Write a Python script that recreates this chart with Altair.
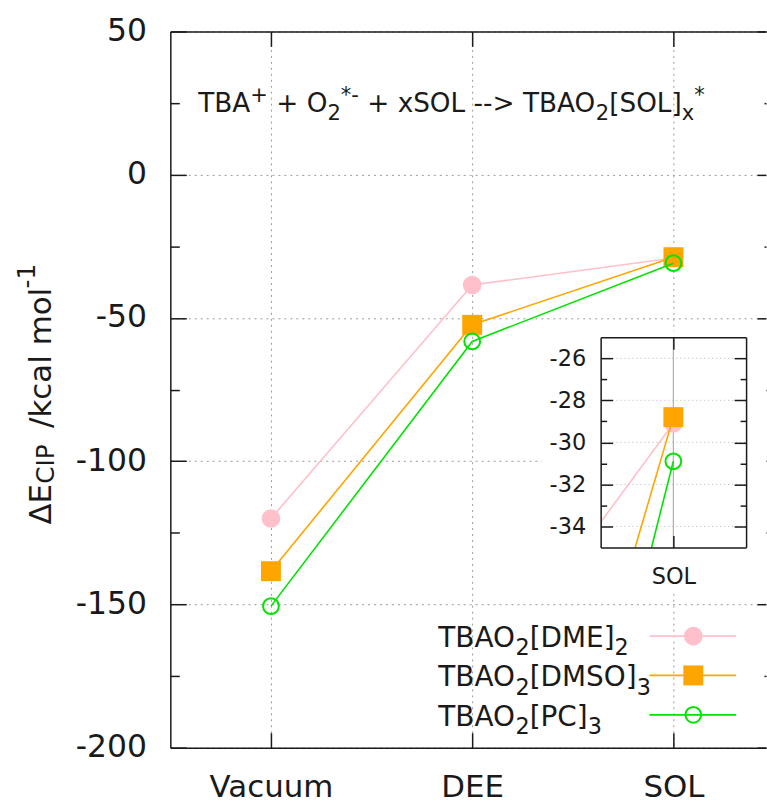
import json

import altair as alt
import pandas as pd

# ---- data -----------------------------------------------------------------
# labels use gnuplot-style markup: _x / _{..} subscript, ^x / ^{..} superscript
categories = ["Vacuum", "DEE", "SOL"]
series = ["TBAO_2[DME]_2", "TBAO_2[DMSO]_3", "TBAO_2[PC]_3"]
e_dme = [-120.0, -38.5, -29.1]
e_dmso = [-138.4, -52.4, -28.8]
e_pc = [-150.6, -58.2, -30.9]

main_major = [-200, -150, -100, -50, 0, 50]
main_minor = [-175, -125, -75, -25, 25]
inset_major = [-34, -32, -30, -28, -26]
inset_minor = [-33, -31, -29, -27]
inset_x = [1.5, 2.5]      # inset window, x (category index)
inset_y = [-35, -25]      # inset window, energy

reaction = "TBA^+ + O_2^{*-} + xSOL --> TBAO_2[SOL]_x^*"

values = [e_dme, e_dmso, e_pc]
rows = []
for name, vals in zip(series, values):
    for i, (cat, v) in enumerate(zip(categories, vals)):
        rows.append({"series": name, "idx": i, "medium": cat, "energy": v})
df = pd.DataFrame(rows)
df_sol = df[df["idx"] == 2]
# DEE -> SOL segments, cut to the inset window below
segs = pd.DataFrame({
    "series": series,
    "x0": [1] * 3, "x1": [2] * 3,
    "y0": [v[1] for v in values], "y1": [v[2] for v in values],
})
df_leg = pd.DataFrame({"series": series})
df_ig = pd.DataFrame({"energy": inset_major})
one = pd.DataFrame({"k": [0]})

# ---- styling --------------------------------------------------------------
FONT = "DejaVu Sans"
INK = "#1a1a1a"
GRID = "#9a9a9a"
STYLE = {
    series[0]: dict(color="#ffc0cb", shape="circle", filled=True, size=350),
    series[1]: dict(color="#ffa500", shape="square", filled=True, size=400),
    series[2]: dict(color="#00e400", shape="circle", filled=False, size=250),
}

cat_expr = json.dumps(categories, ensure_ascii=False) + "[datum.value]"
num_expr = "'' + datum.value"

W, H = 598, 719                  # main plot area
IX0, IX1 = 432, 578              # inset frame, x pixels inside the plot
IY0, IY1 = 307, 518              # inset frame, y pixels inside the plot

X_MAIN = alt.Scale(domain=[-0.5, 2.46], nice=False, zero=False)
Y_MAIN = alt.Scale(domain=[-200, 50], nice=False, zero=False)
X_INSET = alt.Scale(domain=inset_x, range=[IX0, IX1], nice=False, zero=False)
Y_INSET = alt.Scale(domain=inset_y, range=[IY1, IY0], nice=False, zero=False)
Y_LEG = alt.Scale(type="point", domain=series, range=[607, 686], padding=0)

# ---- rich text (sub/superscripts) ------------------------------------------
# DejaVu Sans advance widths, in em
ADV = {"T": .611, "B": .686, "A": .684, "O": .787, "[": .390, "]": .390,
       "D": .770, "M": .863, "E": .632, "S": .635, "P": .603, "C": .698,
       "L": .557, "x": .592, "+": .838, " ": .318, "-": .361, ">": .838,
       "*": .500}
ADV.update({d: .636 for d in "0123456789"})
SCRIPT = 0.8          # relative size of sub/superscripts
DROP, RISE = 0.30, 0.40


def parse(markup):
    out, buf, i = [], "", 0
    while i < len(markup):
        c = markup[i]
        if c in "_^":
            if buf:
                out.append((buf, 0))
                buf = ""
            kind = -1 if c == "_" else 1
            if markup[i + 1] == "{":
                j = markup.index("}", i)
                out.append((markup[i + 2:j], kind))
                i = j + 1
            else:
                out.append((markup[i + 1], kind))
                i += 2
        else:
            buf += c
            i += 1
    if buf:
        out.append((buf, 0))
    return out


def adv(s, fs):
    return sum(ADV.get(ch, 0.6) for ch in s) * fs


def layout(markup, size):
    """(text, x offset, baseline shift, font size) for each run.

    SVG drops leading/trailing blanks, so they are turned into offsets."""
    runs, x = [], 0.0
    for txt, kind in parse(markup):
        fs = size if kind == 0 else size * SCRIPT
        shift = 0 if kind == 0 else (DROP * size if kind < 0 else -RISE * size)
        lead = len(txt) - len(txt.lstrip(" "))
        if txt.strip():
            runs.append((txt.strip(), x + adv(txt[:lead], fs), shift, fs))
        x += adv(txt, fs)
    return runs


def axis(orient, vals, offset=0, label_expr=None, font_size=30, pad=10,
         tick=0, domain=False, grid=False, z=0):
    kw = dict(orient=orient, values=vals, title=None, offset=offset,
              domain=domain, domainColor=INK, domainWidth=1.5,
              grid=grid, ticks=tick > 0, tickSize=tick, tickColor=INK,
              tickWidth=1.5, zindex=z)
    if grid:
        kw.update(gridColor=GRID, gridWidth=1, gridDash=[2, 4])
    if label_expr:
        kw.update(labels=True, labelExpr=label_expr, labelFont=FONT,
                  labelFontSize=font_size, labelColor=INK, labelPadding=pad)
    else:
        kw.update(labels=False)
    return alt.Axis(**kw)


def carrier(data, xs, ys, xaxis, yaxis):
    """Invisible marks whose only job is to carry an axis."""
    return alt.Chart(data).mark_point(opacity=0).encode(
        x=alt.X("idx:Q", scale=xs, axis=xaxis),
        y=alt.Y("energy:Q", scale=ys, axis=yaxis),
    )


def marker(base, st):
    if st["filled"]:
        return base.mark_point(shape=st["shape"], filled=True, size=st["size"],
                               color=st["color"], opacity=1)
    return base.mark_point(shape=st["shape"], filled=False, size=st["size"],
                           color=st["color"], strokeWidth=2, opacity=1)


def text(txt, x, y, size, angle=0):
    return alt.Chart(one).mark_text(
        text=txt, font=FONT, fontSize=size, color=INK, align="left",
        baseline="alphabetic", angle=angle,
    ).encode(x=alt.value(x), y=alt.value(y))


def rich(markup, x, y, size):
    return [text(t, x + dx, y + dy, fs) for t, dx, dy, fs in layout(markup, size)]


# ---- main series ------------------------------------------------------------
main_series = []
for name in series:
    st = STYLE[name]
    base = alt.Chart(df).transform_filter(alt.datum.series == name).encode(
        x=alt.X("idx:Q", scale=X_MAIN, axis=None),
        y=alt.Y("energy:Q", scale=Y_MAIN, axis=None),
    )
    main_series += [base.mark_line(color=st["color"], strokeWidth=1.6), marker(base, st)]

# ---- legend (label, line sample, marker) -----------------------------------
LEG_FS = 28
legend = []
for name in series:
    st = STYLE[name]
    base = alt.Chart(df_leg).transform_filter(alt.datum.series == name).encode(
        y=alt.Y("series:N", scale=Y_LEG, axis=None)
    )
    legend += [
        base.mark_rule(color=st["color"], strokeWidth=1.8).encode(
            x=alt.value(481), x2=alt.value(568)),
        marker(base, st).encode(x=alt.value(525)),
    ]
    for t, dx, dy, fs in layout(name, LEG_FS):
        legend.append(base.mark_text(
            text=t, font=FONT, fontSize=fs, color=INK, align="left",
            baseline="alphabetic", dy=11 + dy,
        ).encode(x=alt.value(269 + dx)))

# ---- inset: white window, grid, segments, SOL markers ----------------------
patch = alt.Chart(one).mark_rect(color="white").encode(
    x=alt.value(373), x2=alt.value(W), y=alt.value(301), y2=alt.value(563)
)
inset_grid = [
    alt.Chart(df_ig).mark_rule(color="#b8b8b8", strokeWidth=1, strokeDash=[1, 3]).encode(
        y=alt.Y("energy:Q", scale=Y_INSET, axis=None),
        x=alt.X(datum=inset_x[0], scale=X_INSET, axis=None),
        x2=alt.X2(datum=inset_x[1]),
    ),
    alt.Chart(df_sol.head(1)).mark_rule(color="#b0b0b0", strokeWidth=1.2).encode(
        x=alt.X("idx:Q", scale=X_INSET, axis=None),
        y=alt.Y(datum=inset_y[0], scale=Y_INSET, axis=None),
        y2=alt.Y2(datum=inset_y[1]),
    ),
]

# where each DEE->SOL segment enters the window (left or bottom edge)
t_expr = (f"max(({inset_x[0]} - datum.x0) / (datum.x1 - datum.x0), "
          f"({inset_y[0]} - datum.y0) / (datum.y1 - datum.y0))")
inset_series = []
for name in series:
    st = STYLE[name]
    seg = alt.Chart(segs).transform_filter(alt.datum.series == name).transform_calculate(
        t=t_expr
    ).transform_calculate(
        xa="datum.x0 + datum.t * (datum.x1 - datum.x0)",
        ya="datum.y0 + datum.t * (datum.y1 - datum.y0)",
    ).mark_rule(color=st["color"], strokeWidth=1.6).encode(
        x=alt.X("xa:Q", scale=X_INSET, axis=None),
        y=alt.Y("ya:Q", scale=Y_INSET, axis=None),
        x2="x1:Q", y2="y1:Q",
    )
    pts = marker(alt.Chart(df_sol).transform_filter(alt.datum.series == name).encode(
        x=alt.X("idx:Q", scale=X_INSET, axis=None),
        y=alt.Y("energy:Q", scale=Y_INSET, axis=None),
    ), st)
    inset_series += [seg, pts]

# ---- axes -------------------------------------------------------------------
main_axes = [
    carrier(df, X_MAIN, Y_MAIN,
            axis("bottom", [0, 1, 2], label_expr=cat_expr, font_size=31, pad=25,
                 domain=True, grid=True),
            axis("left", main_major, label_expr=num_expr, font_size=31.5, pad=24,
                 domain=True, grid=True)),
    carrier(df, X_MAIN, Y_MAIN,
            axis("bottom", [0, 1, 2], offset=-H, tick=15, domain=True),
            axis("right", main_major, offset=-W, tick=16)),
    carrier(df, X_MAIN, Y_MAIN,
            axis("top", [0, 1, 2], offset=-H, tick=15),
            axis("right", main_minor, offset=-W, tick=9)),
    carrier(df, X_MAIN, Y_MAIN, None, axis("left", main_major, offset=-W, tick=9)),
    carrier(df, X_MAIN, Y_MAIN, None, axis("left", main_minor, offset=-W, tick=2)),
]
inset_axes = [
    carrier(df_sol, X_INSET, Y_INSET,
            axis("bottom", [2], offset=IY1 - H, label_expr=cat_expr, font_size=22.5,
                 pad=18, domain=True, z=1),
            axis("left", inset_major, offset=-IX0, label_expr=num_expr, font_size=22.5,
                 pad=15, domain=True, z=1)),
    carrier(df_sol, X_INSET, Y_INSET,
            axis("bottom", [2], offset=IY0 - H, tick=12, domain=True, z=1),
            axis("right", inset_major, offset=IX0 - W, tick=12, z=1)),
    carrier(df_sol, X_INSET, Y_INSET,
            axis("top", [2], offset=-IY1, tick=12, z=1),
            axis("right", inset_minor, offset=IX0 - W, tick=6, z=1)),
    carrier(df_sol, X_INSET, Y_INSET, None,
            axis("left", inset_major, offset=-IX1, tick=12, domain=True, z=1)),
    carrier(df_sol, X_INSET, Y_INSET, None,
            axis("left", inset_minor, offset=-IX1, tick=6, z=1)),
]

# ---- y title, read bottom-to-top ------------------------------------------
ytitle = [
    text("ΔE", -120, 495, 31, 270),
    text("CIP", -117, 454, 24.8, 270),
    text("/kcal mol", -120, 398, 31, 270),
    text("-1", -136, 258, 24.8, 270),
]

chart = alt.layer(
    *main_axes,
    patch,
    *main_series,
    *legend,
    *rich(reaction, 28, 81, 26.4),
    *ytitle,
    *inset_grid,
    *inset_series,
    *inset_axes,
).resolve_scale(x="independent", y="independent").properties(
    width=W, height=H,
    padding={"left": 15, "top": 14, "right": 0, "bottom": 0},
    background="white",
).configure_view(stroke="transparent")

chart.save("out.html", embed_options={"renderer": "svg", "actions": False})
